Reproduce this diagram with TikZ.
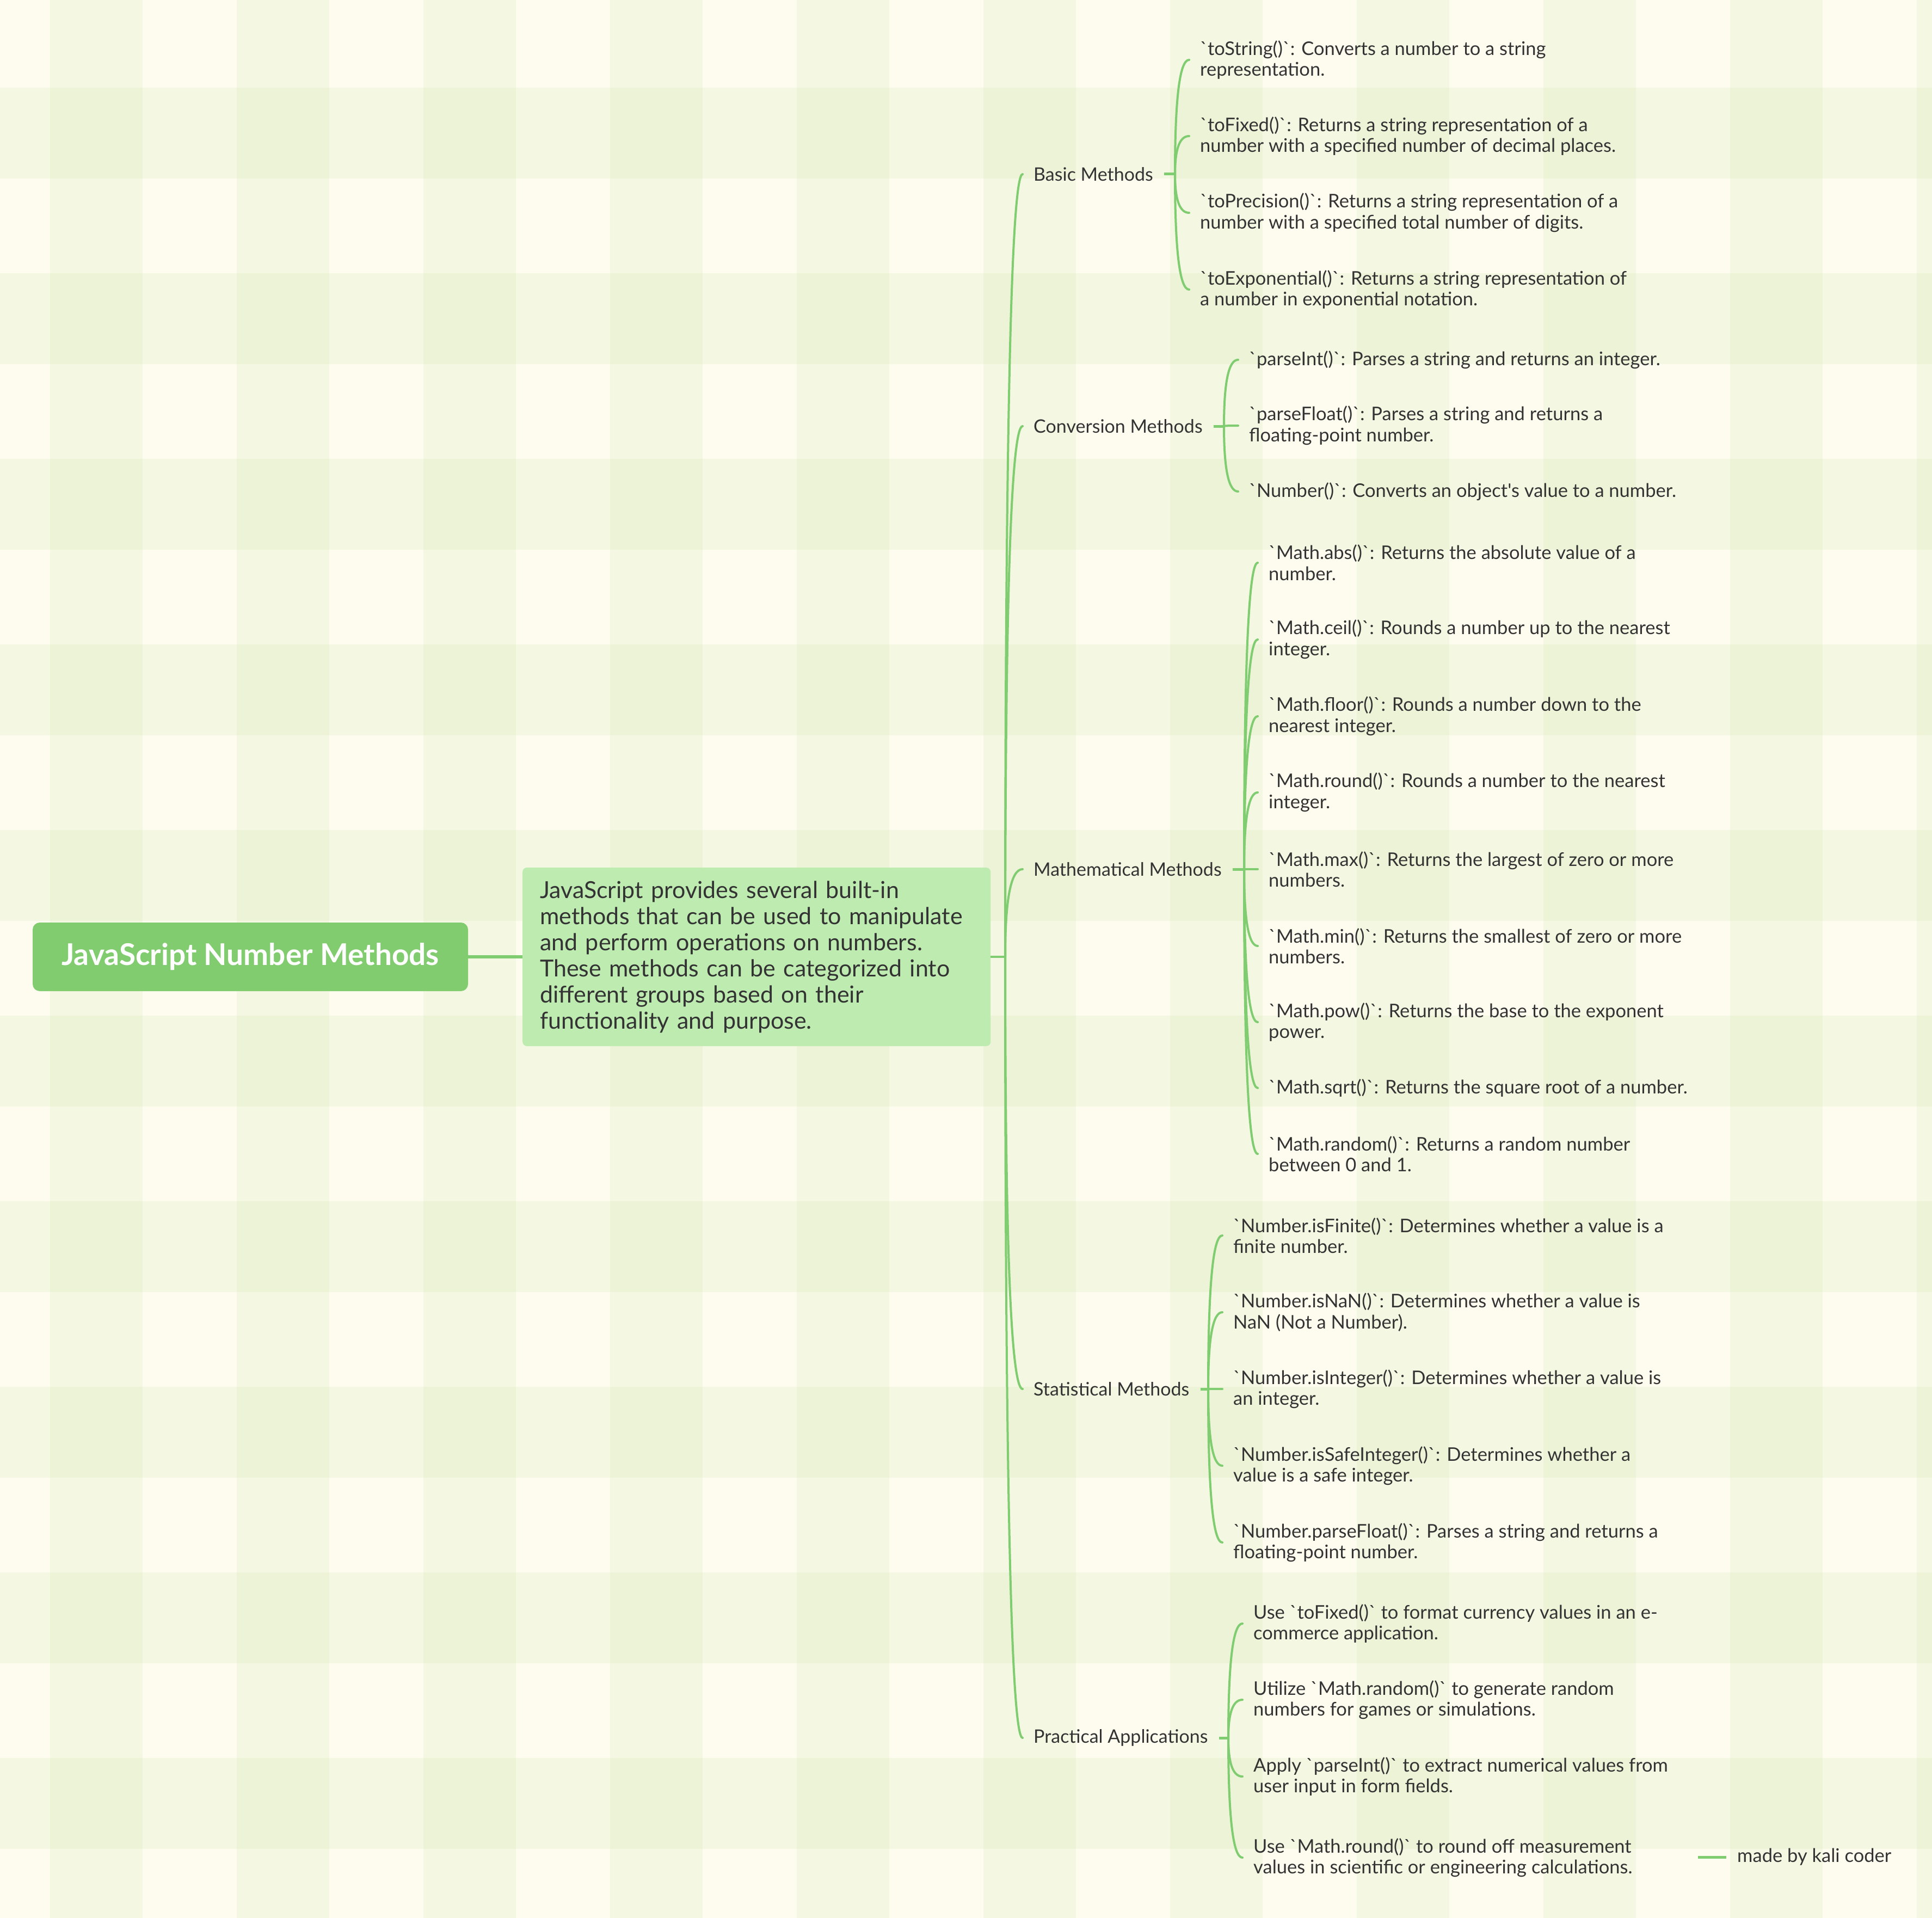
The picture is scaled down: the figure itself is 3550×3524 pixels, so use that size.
\documentclass[tikz,border=0pt]{standalone}
\usepackage{fontspec}
\newfontfamily\lato{Lato}
\usetikzlibrary{calc}
\definecolor{bgbase}{RGB}{254,252,238}
\definecolor{stripe}{RGB}{200,225,170}
\definecolor{linegreen}{RGB}{128,204,112}
\definecolor{rootfill}{RGB}{130,204,112}
\definecolor{descfill}{RGB}{190,235,176}
\definecolor{txt}{RGB}{51,51,51}
\newcommand{\mmlink}[2]{%
  \draw[link] (#1) .. controls ($(#1)!0.6667!(#1 |- #2)$) and ($(#2)!0.6667!(#1 |- #2)$) .. (#2);%
}
\begin{document}
\begin{tikzpicture}[x=1pt,y=-1pt,
  leaf/.style={anchor=west, inner xsep=20pt, inner ysep=0pt, align=left,
    font=\lato\fontsize{34.5}{38.5}\selectfont, text=txt},
  cat/.style={anchor=west, inner xsep=20pt, inner ysep=0pt,
    font=\lato\fontsize{34}{38}\selectfont, text=txt},
  link/.style={draw=linegreen, line width=4pt, line cap=round},
  stub/.style={draw=linegreen, line width=5pt}
]
\useasboundingbox (0,0) rectangle (3550,3524);
\begin{scope}
\clip (0,0) rectangle (3550,3524);
\fill[bgbase] (0,0) rectangle (3550,3524);
\foreach \i in {0,...,10} { \fill[stripe, opacity=0.18] ({92+343*\i},0) rectangle ({262+343*\i},3524); }
\foreach \j in {0,...,10} { \fill[stripe, opacity=0.18] (0,{161+341*\j}) rectangle (3550,{328+341*\j}); }
\end{scope}

% root and description
\node[fill=rootfill, rounded corners=13pt, minimum width=800pt, minimum height=126pt,
  inner sep=0pt, text=white, font=\lato\fontsize{55}{60}\selectfont\bfseries] (root) at (460,1758) {JavaScript Number Methods};
\node[fill=descfill, rounded corners=8pt, anchor=west, text width=796pt, inner xsep=32pt,
  minimum height=328pt, align=left, text=txt, font=\lato\fontsize{43}{48}\selectfont] (desc) at (960,1758)
  {JavaScript provides several built-in\\methods that can be used to manipulate\\and perform operations on numbers.\\These methods can be categorized into\\different groups based on their\\functionality and purpose.};
\draw[linegreen, line width=6pt] (root.east) -- (desc.west);
\coordinate (J) at (1847,1758);
\draw[linegreen, line width=4pt] (desc.east) -- (J);

% categories
\node[cat] (basic) at (1879,320) {Basic Methods};
\node[cat] (conv) at (1879,783) {Conversion Methods};
\node[cat] (math) at (1879,1597) {Mathematical Methods};
\node[cat] (stat) at (1879,2552) {Statistical Methods};
\node[cat] (prac) at (1879,3193) {Practical Applications};
\foreach \c in {basic,conv,math,stat,prac} { \mmlink{J}{\c.west} }

% trunks
\coordinate (bT) at (2159,320);
\coordinate (cT) at (2249,783);
\coordinate (mT) at (2286,1597);
\coordinate (sT) at (2220,2552);
\coordinate (pT) at (2257,3193);
\draw[stub] (basic.east) -- (bT);
\draw[stub] (conv.east) -- (cT);
\draw[stub] (math.east) -- (mT);
\draw[stub] (stat.east) -- (sT);
\draw[stub] (prac.east) -- (pT);

% basic leaves
\node[leaf] (b1) at (2185,110) {`toString()`: Converts a number to a string\\representation.};
\node[leaf] (b2) at (2185,250) {`toFixed()`: Returns a string representation of a\\number with a specified number of decimal places.};
\node[leaf] (b3) at (2185,391) {`toPrecision()`: Returns a string representation of a\\number with a specified total number of digits.};
\node[leaf] (b4) at (2185,532) {`toExponential()`: Returns a string representation of\\a number in exponential notation.};
\foreach \l in {b1,b2,b3,b4} { \mmlink{bT}{\l.west} }

% conversion leaves
\node[leaf] (c1) at (2275,661) {`parseInt()`: Parses a string and returns an integer.};
\node[leaf] (c2) at (2275,782) {`parseFloat()`: Parses a string and returns a\\floating-point number.};
\node[leaf] (c3) at (2275,903) {`Number()`: Converts an object's value to a number.};
\foreach \l in {c1,c2,c3} { \mmlink{cT}{\l.west} }

% math leaves
\node[leaf] (m1) at (2311,1034) {`Math.abs()`: Returns the absolute value of a\\number.};
\node[leaf] (m2) at (2311,1175) {`Math.ceil()`: Rounds a number up to the nearest\\integer.};
\node[leaf] (m3) at (2311,1316) {`Math.floor()`: Rounds a number down to the\\nearest integer.};
\node[leaf] (m4) at (2311,1456) {`Math.round()`: Rounds a number to the nearest\\integer.};
\node[leaf] (m5) at (2311,1597) {`Math.max()`: Returns the largest of zero or more\\numbers.};
\node[leaf] (m6) at (2311,1738) {`Math.min()`: Returns the smallest of zero or more\\numbers.};
\node[leaf] (m7) at (2311,1878) {`Math.pow()`: Returns the base to the exponent\\power.};
\node[leaf] (m8) at (2311,1999) {`Math.sqrt()`: Returns the square root of a number.};
\node[leaf] (m9) at (2311,2120) {`Math.random()`: Returns a random number\\between 0 and 1.};
\foreach \l in {m1,m2,m3,m4,m5,m6,m7,m8,m9} { \mmlink{mT}{\l.west} }

% statistical leaves
\node[leaf] (s1) at (2246,2270) {`Number.isFinite()`: Determines whether a value is a\\finite number.};
\node[leaf] (s2) at (2246,2411) {`Number.isNaN()`: Determines whether a value is\\NaN (Not a Number).};
\node[leaf] (s3) at (2246,2552) {`Number.isInteger()`: Determines whether a value is\\an integer.};
\node[leaf] (s4) at (2246,2693) {`Number.isSafeInteger()`: Determines whether a\\value is a safe integer.};
\node[leaf] (s5) at (2246,2834) {`Number.parseFloat()`: Parses a string and returns a\\floating-point number.};
\foreach \l in {s1,s2,s3,s4,s5} { \mmlink{sT}{\l.west} }

% practical leaves
\node[leaf] (p1) at (2283,2983) {Use `toFixed()` to format currency values in an e-\\commerce application.};
\node[leaf] (p2) at (2283,3123) {Utilize `Math.random()` to generate random\\numbers for games or simulations.};
\node[leaf] (p3) at (2283,3264) {Apply `parseInt()` to extract numerical values from\\user input in form fields.};
\node[leaf] (p4) at (2283,3413) {Use `Math.round()` to round off measurement\\values in scientific or engineering calculations.};
\foreach \l in {p1,p2,p3,p4} { \mmlink{pT}{\l.west} }

% signature
\coordinate (mb) at (3120,3412);
\node[leaf] (made) at (3172,3412) {made by kali coder};
\draw[stub] (mb) -- (made.west);
\end{tikzpicture}
\end{document}
